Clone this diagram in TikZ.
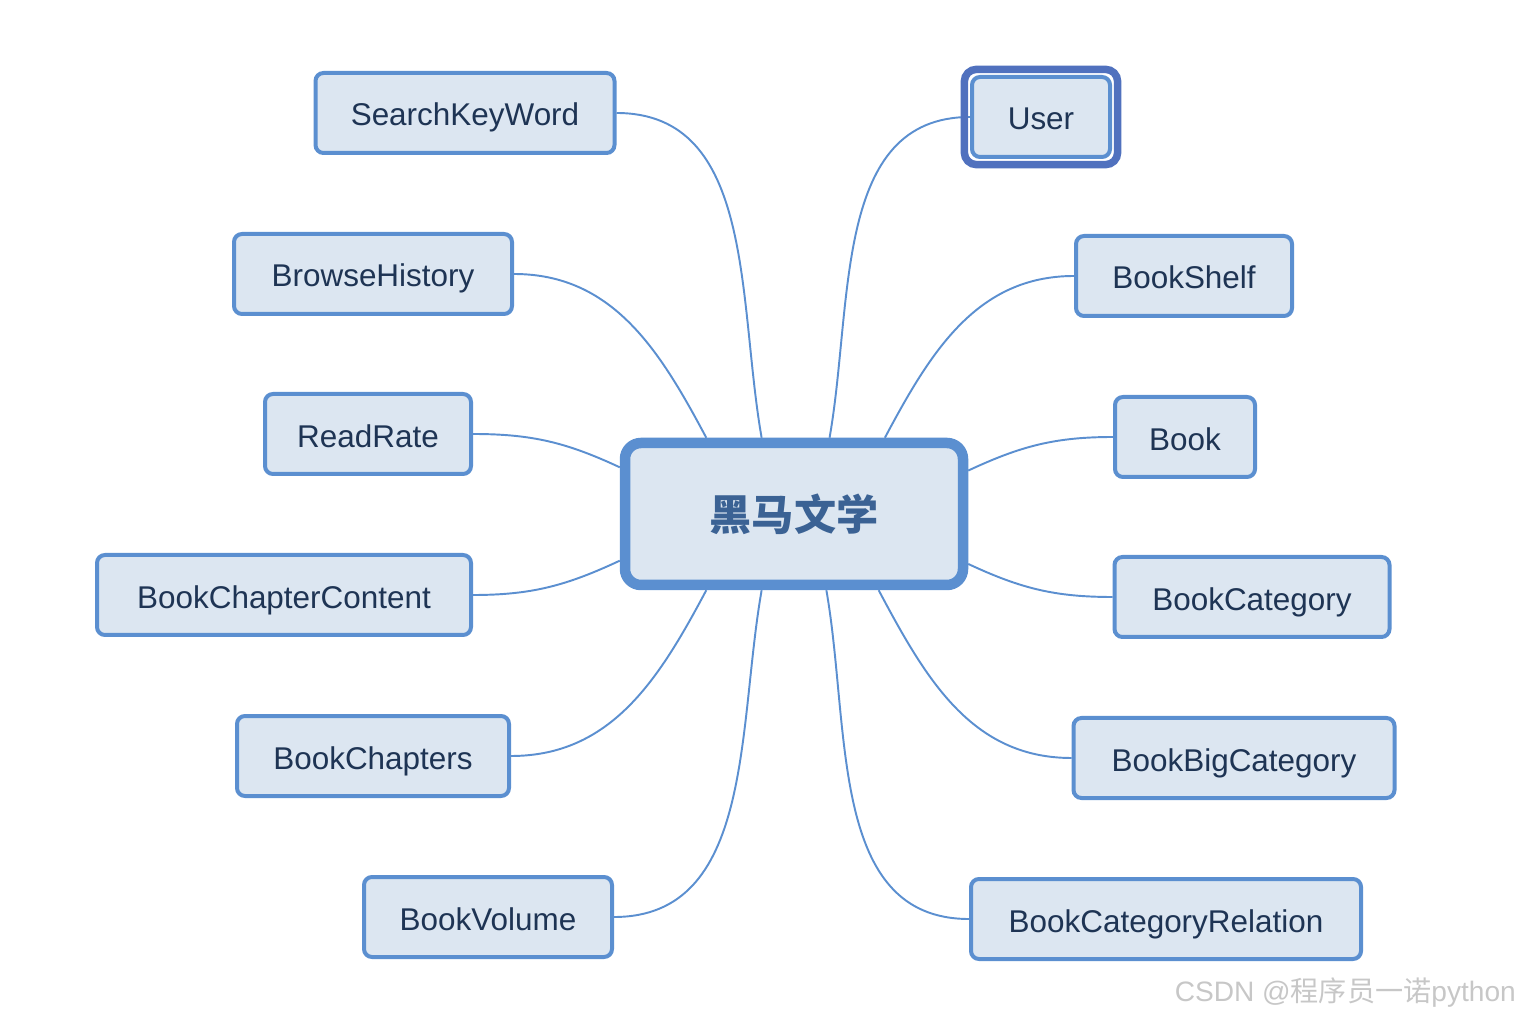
\documentclass[tikz,border=0pt]{standalone}
\usepackage{fontspec}
\setmainfont{Liberation Sans}
\newfontfamily\cjk{Noto Sans CJK SC}
\usepackage{tikz}
\usetikzlibrary{shapes,backgrounds,positioning,fit}
\definecolor{mindline}{RGB}{91,143,208}
\definecolor{mindfill}{RGB}{220,230,241}
\definecolor{mindtext}{RGB}{30,52,84}
\definecolor{roottext}{RGB}{59,98,148}
\definecolor{ringblue}{RGB}{80,113,190}
\tikzset{
  mind_node/.style = {align=center, inner sep=0pt, text centered,
    font=\fontsize{17.9}{20}\selectfont},
  mind_root/.style = {mind_node, rectangle, rounded corners=0.32cm, draw=mindline,
    fill=mindfill, line width=0.21cm, minimum width=6.76cm, minimum height=2.84cm,
    text=roottext, font=\cjk\bfseries\fontsize{24}{28}\selectfont},% racine
  mind_leaf/.style = {mind_node, rectangle, rounded corners=0.16cm, draw=mindline,
    fill=mindfill, line width=0.08cm, minimum height=1.60cm, text=mindtext,
    text height=16pt, text depth=1.2pt},% feuille
  mind_ring/.style = {rectangle, rounded corners=0.24cm, draw=ringblue,
    line width=0.15cm, inner sep=3.2pt},% cadre selectionne
  mind_link/.style = {draw=mindline, line width=1.1pt}
}
\begin{document}
\begin{tikzpicture}
        \useasboundingbox (0,0) rectangle (30.48,20.4);
        \node [mind_root] (root) at (15.88,10.12) {黑马文学};

        \node [mind_leaf, minimum width=5.98cm] (skw) at (9.30,18.14) {SearchKeyWord};
        \node [mind_leaf, minimum width=5.56cm] (bh) at (7.46,14.92) {BrowseHistory};
        \node [mind_leaf, minimum width=4.12cm] (rr) at (7.36,11.72) {ReadRate};
        \node [mind_leaf, minimum width=7.48cm] (bcc) at (5.68,8.50) {BookChapterContent};
        \node [mind_leaf, minimum width=5.44cm] (bchap) at (7.46,5.28) {BookChapters};
        \node [mind_leaf, minimum width=4.96cm] (bv) at (9.76,2.06) {BookVolume};

        \node [mind_leaf, minimum width=2.76cm, minimum height=1.60cm] (user) at (20.82,18.06) {User};
        \node [mind_ring, fit=(user)] (ring) {};
        \node [mind_leaf, minimum width=4.32cm] (shelf) at (23.68,14.88) {BookShelf};
        \node [mind_leaf, minimum width=2.80cm] (book) at (23.70,11.66) {Book};
        \node [mind_leaf, minimum width=5.50cm] (bcat) at (25.04,8.46) {BookCategory};
        \node [mind_leaf, minimum width=6.42cm] (bbig) at (24.68,5.24) {BookBigCategory};
        \node [mind_leaf, minimum width=7.80cm] (bcr) at (23.32,2.02) {BookCategoryRelation};

        \node [text=black!22, anchor=east, font=\fontsize{16}{18}\selectfont] (mark) at (30.44,0.54)
          {CSDN @{\cjk 程序员一诺}python};

        \begin{scope}[on background layer]
        \draw [mind_link] (root.113) to[out=100, in=0] (skw.east);
        \draw [mind_link] (root.139) to[out=118, in=0] (bh.east);
        \draw [mind_link] (root.165) to[out=155, in=0] (rr.east);
        \draw [mind_link] (root.195) to[out=205, in=0] (bcc.east);
        \draw [mind_link] (root.221) to[out=242, in=0] (bchap.east);
        \draw [mind_link] (root.247) to[out=260, in=0] (bv.east);
        \draw [mind_link] (root.65) to[out=80, in=180] (user.west);
        \draw [mind_link] (root.40.5) to[out=62, in=180] (shelf.west);
        \draw [mind_link] (root.14) to[out=25, in=180] (book.west);
        \draw [mind_link] (root.344) to[out=335, in=180] (bcat.west);
        \draw [mind_link] (root.318.5) to[out=298, in=180] (bbig.west);
        \draw [mind_link] (root.293.5) to[out=280, in=180] (bcr.west);
        \end{scope}

        \end{tikzpicture}
\end{document}
